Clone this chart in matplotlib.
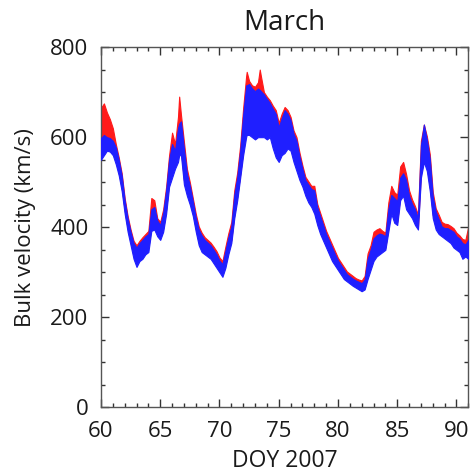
import matplotlib
matplotlib.use("Agg")
import matplotlib.pyplot as plt
from matplotlib.ticker import MultipleLocator

plt.rcParams['font.family'] = ['Open Sans', 'DejaVu Sans']

title = "March"
xlabel = "DOY 2007"
ylabel = "Bulk velocity (km/s)"
xticks = [60, 65, 70, 75, 80, 85, 90]
yticks = [0, 200, 400, 600, 800]

doy = [60.0, 60.25, 60.5, 60.75, 61.0, 61.25, 61.5, 61.75, 62.0, 62.25, 62.5, 62.75,
       63.0, 63.25, 63.5, 63.75, 64.0, 64.25, 64.5, 64.75, 65.0, 65.25, 65.5, 65.75,
       66.0, 66.25, 66.5, 66.6, 66.75, 67.0, 67.25, 67.5, 67.75, 68.0, 68.25, 68.5, 68.75,
       69.0, 69.25, 69.5, 69.75, 70.0, 70.25, 70.5, 70.75, 71.0, 71.25, 71.5, 71.75,
       72.0, 72.25, 72.3, 72.5, 72.75, 73.0, 73.25, 73.4, 73.5, 73.75, 74.0, 74.25, 74.5,
       74.75, 75.0, 75.25, 75.5, 75.75, 76.0, 76.25, 76.5, 76.75, 77.0, 77.25, 77.5,
       77.75, 78.0, 78.25, 78.5, 78.75, 79.0, 79.25, 79.5, 79.75, 80.0, 80.25, 80.5,
       80.75, 81.0, 81.25, 81.5, 81.75, 82.0, 82.25, 82.5, 82.75, 83.0, 83.25, 83.5,
       83.75, 84.0, 84.25, 84.5, 84.75, 85.0, 85.25, 85.5, 85.75, 86.0, 86.25, 86.5,
       86.75, 87.0, 87.25, 87.5, 87.75, 88.0, 88.25, 88.5, 88.75, 89.0, 89.25, 89.5,
       89.75, 90.0, 90.25, 90.5, 90.75, 91.0]

red_hi = [665, 675, 655, 640, 620, 585, 555, 520, 465, 425, 395, 370,
          360, 370, 378, 385, 392, 465, 460, 420, 412, 440, 490, 560,
          610, 585, 645, 690, 650, 590, 530, 500, 465, 430, 402, 388, 378,
          372, 366, 357, 347, 333, 325, 357, 387, 412, 482, 522, 582,
          665, 735, 745, 725, 715, 712, 722, 750, 735, 700, 690, 682, 670,
          660, 632, 652, 667, 660, 645, 615, 600, 566, 537, 512, 502,
          492, 492, 452, 432, 412, 392, 377, 362, 347, 332, 322, 312,
          302, 297, 292, 287, 284, 282, 292, 342, 360, 390, 395, 398,
          392, 388, 455, 492, 478, 472, 535, 545, 518, 482, 462, 447,
          428, 592, 628, 602, 562, 478, 442, 428, 412, 408, 407, 403,
          398, 388, 382, 374, 372, 402]

red_lo = [585, 595, 590, 580, 565, 548, 522, 488, 438, 398, 368, 340,
          325, 335, 340, 350, 355, 405, 405, 388, 380, 398, 440, 500,
          520, 540, 555, 570, 570, 505, 480, 460, 432, 398, 368, 353, 347,
          342, 337, 327, 317, 307, 297, 318, 348, 372, 428, 468, 518,
          570, 615, 620, 615, 610, 605, 610, 612, 610, 610, 605, 610, 585,
          565, 555, 570, 575, 585, 580, 555, 535, 513, 497, 478, 463,
          452, 438, 412, 392, 376, 361, 346, 331, 320, 310, 300, 290,
          284, 279, 274, 270, 266, 262, 266, 292, 312, 332, 342, 347,
          352, 355, 400, 440, 418, 412, 470, 480, 450, 438, 426, 410,
          400, 520, 555, 535, 490, 428, 402, 391, 386, 381, 376, 371,
          362, 357, 352, 337, 342, 340]

blue_hi = [598, 605, 600, 598, 592, 578, 550, 515, 460, 420, 390, 365,
           355, 365, 372, 380, 385, 440, 445, 415, 405, 432, 482, 550,
           585, 570, 620, 630, 635, 575, 520, 492, 458, 422, 395, 382, 372,
           366, 360, 350, 340, 326, 318, 348, 378, 402, 472, 512, 570,
           650, 715, 715, 718, 708, 702, 708, 705, 702, 695, 685, 676, 663,
           652, 622, 642, 660, 652, 638, 608, 592, 558, 530, 505, 495,
           485, 482, 445, 425, 405, 385, 370, 355, 340, 326, 316, 306,
           296, 291, 286, 282, 279, 276, 284, 330, 350, 375, 382, 386,
           384, 380, 440, 472, 465, 458, 510, 520, 505, 470, 452, 440,
           420, 582, 628, 595, 552, 468, 435, 418, 402, 398, 398, 394,
           390, 380, 375, 365, 362, 372]

blue_lo = [550, 560, 570, 568, 560, 540, 515, 480, 430, 390, 360, 330,
           312, 325, 330, 340, 345, 392, 395, 380, 372, 390, 430, 490,
           510, 530, 545, 560, 560, 495, 470, 450, 425, 390, 360, 345, 340,
           335, 330, 320, 310, 300, 290, 310, 340, 365, 420, 460, 510,
           560, 600, 605, 605, 600, 595, 600, 600, 600, 600, 595, 600, 575,
           555, 545, 560, 565, 575, 570, 545, 525, 505, 490, 470, 455,
           445, 430, 405, 385, 370, 355, 340, 325, 315, 305, 295, 285,
           280, 275, 270, 266, 262, 258, 262, 285, 305, 325, 335, 340,
           345, 350, 390, 430, 410, 405, 460, 470, 440, 430, 420, 405,
           395, 510, 545, 525, 480, 420, 395, 385, 380, 375, 370, 365,
           355, 350, 345, 330, 335, 330]

fig = plt.figure(figsize=(4.74, 4.73), dpi=100)
ax = fig.add_axes([0.213, 0.1385, 0.775, 0.762])

ax.fill_between(doy, red_lo, red_hi, color='#ff1a1a', linewidth=0.8,
                edgecolor='#ff1a1a', zorder=2)
ax.fill_between(doy, blue_lo, blue_hi, color='#1f1fff', linewidth=0.8,
                edgecolor='#1f1fff', zorder=3)

ax.set_xlim(60, 91)
ax.set_ylim(0, 800)
ax.set_xticks(xticks)
ax.set_yticks(yticks)
ax.xaxis.set_minor_locator(MultipleLocator(1))
ax.yaxis.set_minor_locator(MultipleLocator(50))
ax.tick_params(which='both', direction='in', top=True, right=True,
               labelsize=16, colors='#333333', labelcolor='#1a1a1a')
ax.tick_params(which='major', length=6, width=1.0)
ax.tick_params(which='minor', length=3, width=1.0)
ax.tick_params(axis='x', which='major', pad=10)
ax.tick_params(axis='y', which='major', pad=9)
for s in ax.spines.values():
    s.set_color('#555555')
    s.set_linewidth(1.0)

ax.set_title(title, fontsize=20, pad=12, color='#1a1a1a')
ax.set_xlabel(xlabel, fontsize=16.5, labelpad=5, color='#1a1a1a')
ax.set_ylabel(ylabel, fontsize=16, labelpad=10, color='#1a1a1a')

fig.savefig("out.png", dpi=100)
